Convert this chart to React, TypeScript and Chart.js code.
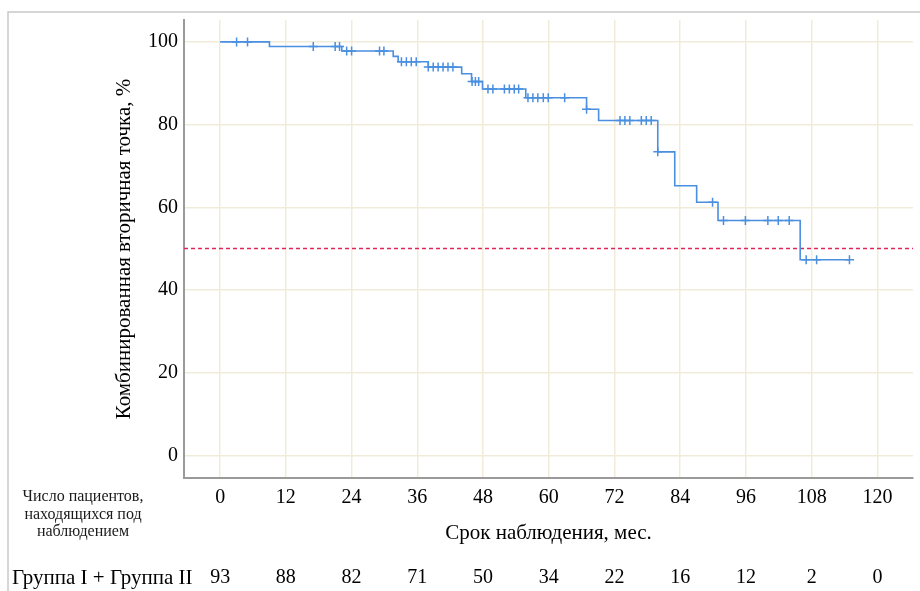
import React, { useEffect, useRef } from "react";
import { Chart, registerables } from "chart.js";

Chart.register(...registerables);

// ---- data ----
const xTicks = [0, 12, 24, 36, 48, 60, 72, 84, 96, 108, 120];
const yTicks = [0, 20, 40, 60, 80, 100];
const atRisk = [93, 88, 82, 71, 50, 34, 22, 16, 12, 2, 0];

const stepTimes = [0, 9.0, 22.2, 31.6, 32.5, 38.0, 44.1, 45.9, 47.9, 55.8, 66.9, 69.1, 79.9, 83.0, 87.0, 90.9, 105.9, 114.9];
const stepSurvival = [100, 98.9, 97.8, 96.5, 95.2, 93.9, 92.3, 90.4, 88.6, 86.5, 83.7, 81.0, 73.4, 65.2, 61.2, 56.8, 47.3, 47.3];

const censorTimes = [
  3.0, 5.0,
  17.0, 21.0, 21.8,
  23.1, 24.0, 29.1, 29.9,
  33.1, 34.0, 34.9, 35.8,
  38.0, 38.9, 39.8, 40.7, 41.6, 42.5,
  46.0, 46.6, 47.2,
  48.9, 49.8, 51.9, 52.8, 53.7, 54.5,
  56.2, 57.1, 58.0, 59.0, 59.9, 62.9,
  66.9,
  73.0, 73.9, 74.8, 76.9, 77.8, 78.7,
  79.9,
  89.9,
  91.9, 95.9, 100.0, 101.9, 103.9,
  107.0, 108.9, 114.9,
];
const censorSurvival = [
  100, 100,
  98.9, 98.9, 98.9,
  97.8, 97.8, 97.8, 97.8,
  95.2, 95.2, 95.2, 95.2,
  93.9, 93.9, 93.9, 93.9, 93.9, 93.9,
  90.4, 90.4, 90.4,
  88.6, 88.6, 88.6, 88.6, 88.6, 88.6,
  86.5, 86.5, 86.5, 86.5, 86.5, 86.5,
  83.7,
  81.0, 81.0, 81.0, 81.0, 81.0, 81.0,
  73.4,
  61.2,
  56.8, 56.8, 56.8, 56.8, 56.8,
  47.3, 47.3, 47.3,
];

const medianLevel = 50;
const X_MIN = -6.6;
const X_MAX = 126.5;
const Y_MIN = -5.5;
const Y_MAX = 105.3;

const yTitle = "Комбинированная вторичная точка, %";
const xTitle = "Срок наблюдения, мес.";
const riskLabelLines = ["Число пациентов,", "находящихся под", "наблюдением"];
const groupLabel = "Группа I + Группа II";

const SERIF = "'Liberation Serif', 'Times New Roman', serif";
const LINE_BLUE = "#4a8fe0";
const GRID = "#f1ebd9";
const TEXT = "#000000";

export default function App() {
  const ref = useRef<HTMLCanvasElement | null>(null);

  useEffect(() => {
    const canvas = ref.current;
    if (!canvas) return;

    const decor = {
      id: "decor",
      beforeDraw(chart: any) {
        const { ctx, width, height } = chart;
        ctx.save();
        ctx.fillStyle = "#ffffff";
        ctx.fillRect(0, 0, width, height);
        ctx.strokeStyle = "#c9c9c9";
        ctx.lineWidth = 1.5;
        ctx.beginPath();
        ctx.moveTo(8, height);
        ctx.lineTo(8, 12);
        ctx.lineTo(width, 12);
        ctx.stroke();
        ctx.restore();
      },
      afterDraw(chart: any) {
        const { ctx } = chart;
        const xs = chart.scales.x;
        ctx.save();
        ctx.fillStyle = "#1a1a1a";
        ctx.textBaseline = "middle";
        ctx.textAlign = "center";
        ctx.font = `16px ${SERIF}`;
        riskLabelLines.forEach((t, i) => ctx.fillText(t, 83, 497 + i * 17.5));
        ctx.fillStyle = TEXT;
        ctx.font = `21px ${SERIF}`;
        ctx.textAlign = "left";
        ctx.fillText(groupLabel, 12, 578);
        ctx.font = `20px ${SERIF}`;
        ctx.textAlign = "center";
        xTicks.forEach((t, i) => {
          ctx.fillText(String(atRisk[i]), xs.getPixelForValue(t), 578);
        });
        ctx.restore();
      },
    };

    const chart = new Chart(canvas, {
      type: "line",
      data: {
        datasets: [
          {
            label: "curve",
            data: stepTimes.map((t, i) => ({ x: t, y: stepSurvival[i] })),
            borderColor: LINE_BLUE,
            borderWidth: 1.6,
            stepped: "before",
            pointRadius: 0,
            fill: false,
          },
          {
            label: "censored",
            data: censorTimes.map((t, i) => ({ x: t, y: censorSurvival[i] })),
            showLine: false,
            pointStyle: "cross",
            pointRadius: 4.5,
            pointBorderWidth: 1.5,
            pointBorderColor: LINE_BLUE,
            pointBackgroundColor: LINE_BLUE,
          },
          {
            label: "median",
            data: [
              { x: X_MIN, y: medianLevel },
              { x: X_MAX, y: medianLevel },
            ],
            borderColor: "#e0245a",
            borderWidth: 1.5,
            borderDash: [4, 3],
            pointRadius: 0,
            fill: false,
          },
        ],
      },
      options: {
        responsive: false,
        animation: false,
        devicePixelRatio: 1,
        layout: { padding: { left: 0, top: 20, right: 7, bottom: 0 } },
        plugins: {
          legend: { display: false },
          tooltip: { enabled: false },
        },
        scales: {
          x: {
            type: "linear",
            min: X_MIN,
            max: X_MAX,
            afterBuildTicks: (s: any) => {
              s.ticks = xTicks.map((v) => ({ value: v }));
            },
            afterFit: (s: any) => {
              s.height = 113;
            },
            grid: { color: GRID, lineWidth: 1.5, drawTicks: false },
            border: { color: "#9a9a9a", width: 2 },
            ticks: {
              padding: 8,
              color: TEXT,
              font: { family: SERIF, size: 20 },
              maxRotation: 0,
              autoSkip: false,
            },
            title: {
              display: true,
              text: xTitle,
              color: TEXT,
              font: { family: SERIF, size: 21 },
              padding: { top: 0, bottom: 45 },
            },
          },
          y: {
            type: "linear",
            min: Y_MIN,
            max: Y_MAX,
            afterBuildTicks: (s: any) => {
              s.ticks = yTicks.map((v) => ({ value: v }));
            },
            afterFit: (s: any) => {
              s.width = 184;
            },
            grid: { color: GRID, lineWidth: 1.5, drawTicks: false },
            border: { color: "#9a9a9a", width: 2 },
            ticks: {
              padding: 6,
              color: TEXT,
              font: { family: SERIF, size: 20 },
              autoSkip: false,
            },
            title: {
              display: true,
              text: yTitle,
              color: TEXT,
              font: { family: SERIF, size: 21 },
              padding: { top: 112, bottom: 0 },
            },
          },
        },
      },
      plugins: [decor],
    });

    return () => chart.destroy();
  }, []);

  return (
    <div style={{ position: "absolute", left: 0, top: 0, width: 920, height: 591 }}>
      <canvas ref={ref} width={920} height={591} style={{ display: "block", width: 920, height: 591 }} />
    </div>
  );
}
